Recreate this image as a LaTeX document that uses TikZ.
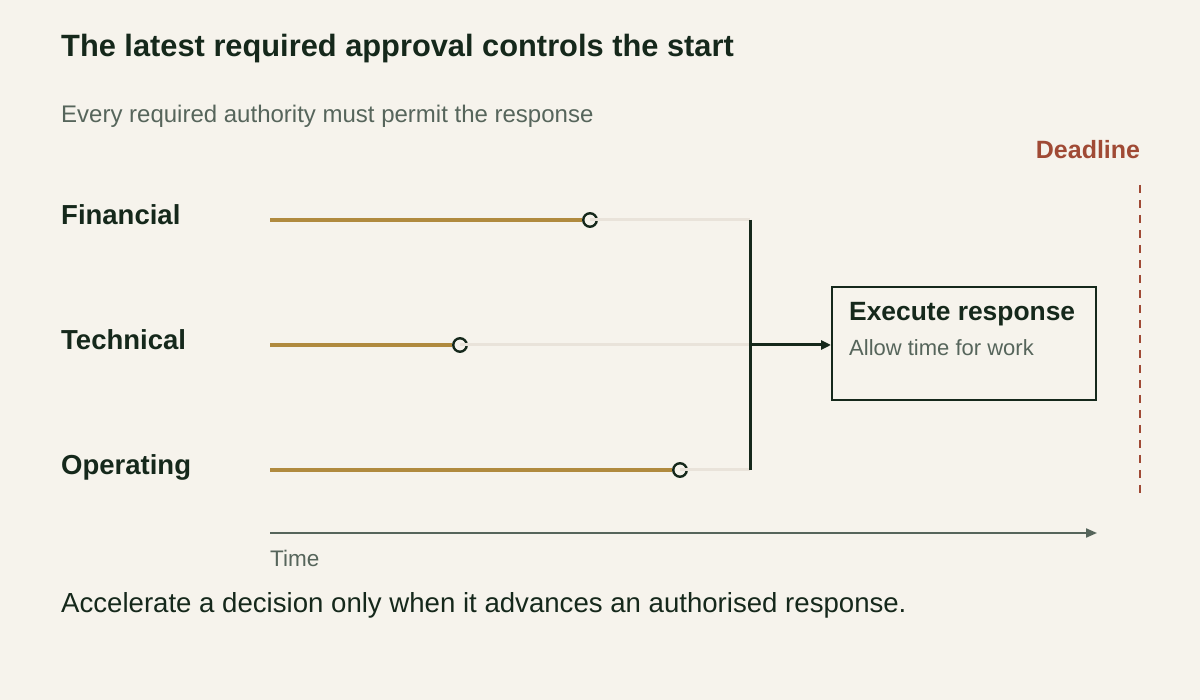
\documentclass[tikz,border=0pt]{standalone}
\usepackage{fontspec}
\setmainfont{Liberation Sans}
\usetikzlibrary{arrows.meta}
\definecolor{bg}{HTML}{F6F3EC}
\definecolor{ink}{HTML}{15281B}
\definecolor{muted}{HTML}{56655B}
\definecolor{gold}{HTML}{B08A3E}
\definecolor{track}{HTML}{E9E3DA}
\definecolor{rust}{HTML}{A04A35}
\tikzset{
  rowlabel/.style={anchor=base west, inner sep=0pt, font=\fontsize{27.5}{32}\selectfont\bfseries, text=ink},
  goldbar/.style={draw=gold, line width=3.5pt},
  trackbar/.style={draw=track, line width=3pt},
  marker/.style={circle, draw=ink, line width=2.4pt, fill=bg, minimum size=13.5pt, inner sep=0pt},
}
\begin{document}
\begin{tikzpicture}[x=1pt,y=-1pt]
\useasboundingbox[fill=bg] (0,0) rectangle (1200,700);
% title
\node[anchor=base west, inner sep=0pt, font=\fontsize{30.8}{36}\selectfont\bfseries, text=ink] (title) at (61,57) {The latest required approval controls the start};
\node[anchor=base west, inner sep=0pt, font=\fontsize{24}{28}\selectfont, text=muted] (sub) at (61,123) {Every required authority must permit the response};
% rows
\node[rowlabel] (lfin) at (61,225) {Financial};
\node[rowlabel] (ltec) at (61,350) {Technical};
\node[rowlabel] (lope) at (61,475) {Operating};
\coordinate (sfin) at (270,220);
\coordinate (stec) at (270,345);
\coordinate (sope) at (270,470);
\coordinate (bfin) at (750,220);
\coordinate (btec) at (750,345);
\coordinate (bope) at (750,470);
\node[marker] (mfin) at (590,220) {};
\node[marker] (mtec) at (460,345) {};
\node[marker] (mope) at (680,470) {};
\draw[goldbar] (sfin) -- (mfin.west);
\draw[goldbar] (stec) -- (mtec.west);
\draw[goldbar] (sope) -- (mope.west);
\draw[trackbar] (mfin.center) -- (bfin);
\draw[trackbar] (mtec.center) -- (btec);
\draw[trackbar] (mope.center) -- (bope);
% merge bar
\draw[ink, line width=3pt] (bfin) -- (bope);
% box
\node[draw=ink, line width=2pt, minimum width=264pt, minimum height=113pt, anchor=north west, inner sep=0pt] (box) at (831,286) {};
\node[anchor=base west, inner sep=0pt, font=\fontsize{26.4}{30}\selectfont\bfseries, text=ink] (boxt) at (849,321) {Execute response};
\node[anchor=base west, inner sep=0pt, font=\fontsize{22}{26}\selectfont, text=muted] (boxs) at (849,356) {Allow time for work};
\draw[ink, line width=3pt, -{Triangle[length=10pt,width=9pt]}] (btec) -- (btec -| box.west);
% deadline
\node[anchor=base, inner sep=0pt, font=\fontsize{25}{29}\selectfont\bfseries, text=rust] (dl) at (1088,159) {Deadline};
\coordinate (dtop) at (1140,185);
\coordinate (dbot) at (1140,499);
\draw[rust, line width=2pt, dash pattern=on 8pt off 7pt] (dtop) -- (dbot);
% time axis
\coordinate (t0) at (270,533);
\coordinate (t1) at (1097,533);
\draw[muted, line width=2pt, -{Triangle[length=11pt,width=9pt]}] (t0) -- (t1);
\node[anchor=base west, inner sep=0pt, font=\fontsize{22.5}{26}\selectfont, text=muted] (tl) at (270,566) {Time};
% footer
\node[anchor=base west, inner sep=0pt, font=\fontsize{27.6}{32}\selectfont, text=ink] (foot) at (61,612) {Accelerate a decision only when it advances an authorised response.};
\end{tikzpicture}
\end{document}
